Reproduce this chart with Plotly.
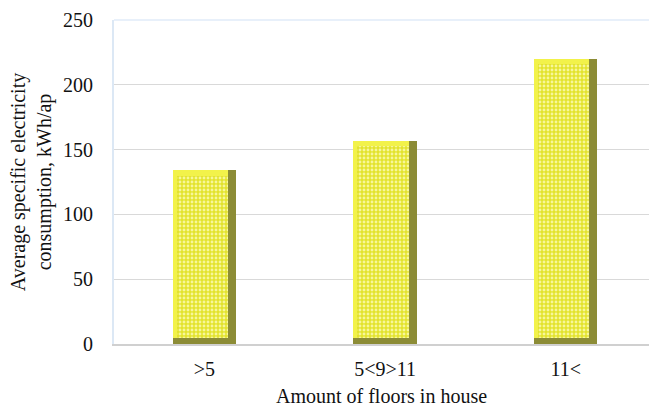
import plotly.graph_objects as go

# Electricity consumption by building height
categories = [">5", "5<9>11", "11<"]
consumption = [134, 157, 220]

# Bevel geometry (in axis units) for the 3-D bar look
bar_w = 0.35
right_bevel = 0.045
left_bevel = 0.022
bottom_bevel = 4.5
top_bevel = 4.0

fig = go.Figure()

# Dark olive body: shows as right and bottom bevel
fig.add_trace(go.Bar(
    x=categories, y=consumption, width=bar_w, offset=-bar_w / 2,
    marker=dict(color="#8c8c36", line=dict(width=0)),
    hoverinfo="skip", showlegend=False,
))

# Light yellow layer: top and left bevel
fig.add_trace(go.Bar(
    x=categories,
    y=[v - bottom_bevel for v in consumption],
    base=[bottom_bevel] * len(consumption),
    width=bar_w - right_bevel, offset=-bar_w / 2,
    marker=dict(color="#f2f24a", line=dict(width=0)),
    hoverinfo="skip", showlegend=False,
))

# Dotted front face
fig.add_trace(go.Bar(
    x=categories,
    y=[v - bottom_bevel - top_bevel for v in consumption],
    base=[bottom_bevel] * len(consumption),
    width=bar_w - right_bevel - left_bevel, offset=-bar_w / 2 + left_bevel,
    marker=dict(
        color="#e4e42a",
        line=dict(width=0),
        pattern=dict(shape=".", fgcolor="#f7f79a", bgcolor="#e3e32c",
                     size=4, solidity=0.4, fillmode="replace"),
    ),
    hovertext=[str(v) for v in consumption], hoverinfo="x+text",
    showlegend=False,
))

font_family = "Liberation Serif, Times New Roman, serif"

fig.update_layout(
    width=649, height=410,
    margin=dict(l=114, r=0, t=20, b=66),
    paper_bgcolor="white", plot_bgcolor="white",
    barmode="overlay", bargap=0,
    font=dict(family=font_family, size=20, color="#111111"),
    xaxis=dict(
        type="category", range=[-0.5, 2.46],
        showgrid=False, showline=True, linecolor="#d0d0d0", linewidth=1.5,
        ticks="outside", ticklen=6, tickcolor="rgba(0,0,0,0)",
        tickfont=dict(size=20),
        title=dict(text="Amount of floors in house", font=dict(size=20), standoff=10),
    ),
    yaxis=dict(
        range=[0, 250], dtick=50,
        showgrid=True, gridcolor="#d9d9d9", gridwidth=1,
        showline=True, linecolor="#dce8f5", linewidth=2,
        zeroline=False,
        ticks="outside", ticklen=15, tickcolor="rgba(0,0,0,0)",
        tickfont=dict(size=20),
        title=dict(text="Average specific electricity<br>consumption, kWh/ap",
                   font=dict(size=20), standoff=6),
    ),
    shapes=[dict(type="line", xref="paper", yref="paper", x0=0, x1=1, y0=1, y1=1,
                 line=dict(color="#e8f0fa", width=2), layer="below")],
)

fig.write_html("out.html")
